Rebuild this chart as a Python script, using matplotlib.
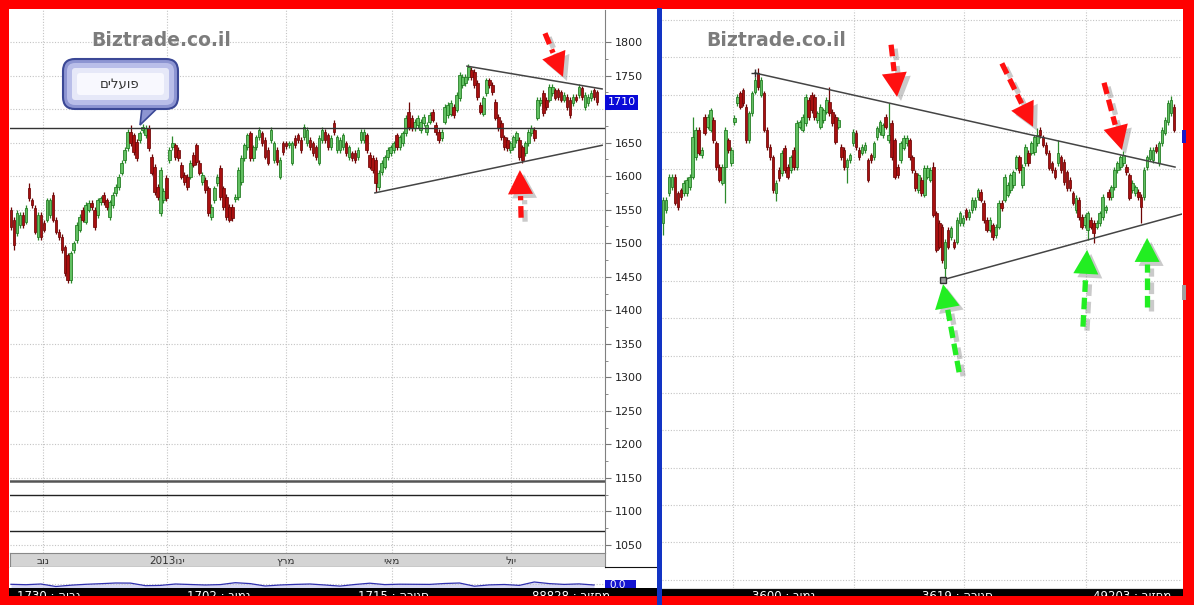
import re
import numpy as np
import matplotlib
matplotlib.use("Agg")
import matplotlib.pyplot as plt
from matplotlib.patches import Rectangle, Polygon, FancyBboxPatch
from matplotlib.lines import Line2D
from matplotlib.transforms import IdentityTransform, blended_transform_factory

plt.rcParams["font.family"] = ["DejaVu Sans"]

W, H = 1194, 605

# ---------------- left chart (daily candles) ----------------
l_open = [1550, 1535, 1515, 1527, 1542, 1532, 1582, 1564, 1553, 1509,
          1542, 1530, 1535, 1542, 1572, 1535, 1517, 1509, 1494, 1482,
          1445, 1490, 1505, 1520, 1550, 1532, 1550, 1560, 1550, 1542,
          1561, 1572, 1564, 1539, 1557, 1575, 1584, 1605, 1624, 1642,
          1666, 1661, 1651, 1654, 1669, 1661, 1672, 1629, 1614, 1584,
          1545, 1564, 1597, 1624, 1643, 1646, 1639, 1617, 1602, 1599,
          1599, 1632, 1646, 1620, 1591, 1594, 1582, 1539, 1564, 1590,
          1612, 1582, 1569, 1554, 1554, 1566, 1569, 1591, 1627, 1643,
          1664, 1627, 1643, 1658, 1664, 1654, 1639, 1654, 1624, 1639,
          1599, 1649, 1649, 1646, 1620, 1657, 1661, 1654, 1658, 1649,
          1654, 1649, 1643, 1620, 1654, 1666, 1661, 1643, 1679, 1639,
          1639, 1643, 1649, 1628, 1634, 1635, 1628, 1654, 1654, 1661,
          1632, 1627, 1624, 1584, 1606, 1614, 1628, 1634, 1639, 1661,
          1643, 1649, 1664, 1696, 1687, 1672, 1676, 1669, 1679, 1666,
          1681, 1696, 1676, 1666, 1657, 1681, 1691, 1693, 1703, 1699,
          1716, 1736, 1739, 1748, 1758, 1755, 1739, 1706, 1693, 1724,
          1743, 1736, 1711, 1688, 1679, 1658, 1654, 1639, 1643, 1654,
          1654, 1643, 1634, 1649, 1664, 1669, 1687, 1709, 1724, 1714,
          1714, 1724, 1728, 1728, 1725, 1714, 1718, 1714, 1709, 1718,
          1721, 1731, 1703, 1709, 1716, 1728, 1725]
l_close = [1524, 1497, 1545, 1542, 1527, 1553, 1567, 1557, 1517, 1542,
           1509, 1520, 1564, 1564, 1535, 1517, 1509, 1490, 1455, 1445,
           1485, 1500, 1527, 1539, 1535, 1557, 1560, 1554, 1524, 1564,
           1567, 1561, 1554, 1561, 1572, 1584, 1599, 1620, 1639, 1666,
           1649, 1636, 1627, 1664, 1673, 1672, 1642, 1605, 1576, 1569,
           1609, 1578, 1567, 1639, 1649, 1628, 1627, 1599, 1591, 1584,
           1620, 1617, 1621, 1605, 1602, 1579, 1545, 1554, 1582, 1599,
           1569, 1554, 1539, 1535, 1537, 1569, 1609, 1627, 1646, 1661,
           1627, 1643, 1658, 1669, 1649, 1629, 1620, 1669, 1649, 1621,
           1624, 1636, 1645, 1649, 1649, 1646, 1654, 1639, 1673, 1669,
           1643, 1634, 1628, 1657, 1669, 1654, 1643, 1657, 1666, 1658,
           1654, 1661, 1634, 1643, 1627, 1624, 1639, 1666, 1666, 1639,
           1614, 1609, 1590, 1605, 1620, 1628, 1639, 1643, 1649, 1643,
           1658, 1664, 1687, 1673, 1672, 1681, 1687, 1681, 1688, 1676,
           1691, 1684, 1666, 1654, 1666, 1703, 1706, 1709, 1691, 1721,
           1751, 1748, 1748, 1763, 1748, 1736, 1718, 1696, 1716, 1743,
           1736, 1725, 1687, 1672, 1658, 1643, 1642, 1649, 1658, 1664,
           1628, 1624, 1649, 1666, 1672, 1657, 1714, 1714, 1694, 1703,
           1733, 1733, 1717, 1718, 1714, 1721, 1703, 1691, 1718, 1714,
           1733, 1718, 1721, 1718, 1724, 1718, 1710]
l_high_idx = [6, 40, 54, 133, 153]
l_high_val = [1590, 1676, 1660, 1710, 1766]
l_low_idx = [1, 19, 50, 122, 171]
l_low_val = [1490, 1440, 1540, 1576, 1621]

l_months = ["נוב", "ינו2013", "מרץ", "מאי", "יול"]
l_month_idx = [10.7, 52.2, 92.0, 127.4, 167.2]
l_level = 1672                       # horizontal resistance
l_low_lines = [1145.5, 1125, 1071]
l_res_x, l_res_y = [152.5, 197.7], [1764, 1730]
l_sup_x, l_sup_y = [121.7, 197.7], [1575, 1646]
l_last = 1710
l_ind = [3.7, 3.3, 4.0, 1.5, 2.8, 3.7, 4.3, 5.0, 4.9, 2.3,
         2.6, 4.0, 3.5, 3.0, 3.4, 5.3, 4.4, 2.0, 3.0, 3.6,
         4.0, 3.0, 1.9, 3.5, 4.8, 3.4, 3.8, 3.7, 3.6, 4.5,
         5.0, 1.8, 3.1, 3.5, 2.6, 6.0, 4.4, 3.6, 4.1, 3.0]
l_stat_names = ["גבוה", "נמוך", "סגירה", "מחזור"]
l_stat_vals = ["1730", "1702", "1715", "88828"]
l_red_tail = [(178.6, 1813), (170.6, 1538)]
l_red_tip = [(184.6, 1748), (170.2, 1609)]

# ---------------- right chart ----------------
r_open = [3478, 3495, 3518, 3526, 3540, 3518, 3522, 3518, 3518, 3526,
          3540, 3566, 3603, 3569, 3620, 3607, 3603, 3616, 3585, 3553,
          3532, 3553, 3589, 3558, 3613, 3639, 3652, 3656, 3634, 3589,
          3625, 3654, 3679, 3650, 3652, 3603, 3580, 3566, 3518, 3549,
          3545, 3579, 3553, 3549, 3576, 3553, 3607, 3603, 3612, 3643,
          3650, 3647, 3616, 3607, 3616, 3627, 3640, 3627, 3620, 3607,
          3580, 3576, 3553, 3562, 3585, 3599, 3576, 3572, 3576, 3562,
          3569, 3566, 3593, 3600, 3596, 3620, 3589, 3612, 3589, 3553,
          3562, 3579, 3585, 3589, 3566, 3545, 3522, 3536, 3516, 3540,
          3536, 3553, 3491, 3478, 3473, 3418, 3469, 3459, 3453, 3453,
          3478, 3478, 3495, 3486, 3495, 3499, 3513, 3520, 3505, 3482,
          3469, 3475, 3462, 3473, 3505, 3509, 3516, 3522, 3529, 3552,
          3566, 3529, 3558, 3572, 3572, 3573, 3585, 3603, 3593, 3583,
          3572, 3558, 3549, 3558, 3566, 3560, 3546, 3536, 3518, 3495,
          3509, 3486, 3475, 3469, 3482, 3478, 3473, 3478, 3486, 3495,
          3520, 3513, 3526, 3549, 3553, 3558, 3553, 3542, 3522, 3518,
          3520, 3513, 3513, 3553, 3564, 3562, 3580, 3558, 3585, 3599,
          3613, 3625, 3634]
r_close = [3509, 3509, 3540, 3540, 3505, 3499, 3513, 3532, 3536, 3540,
           3593, 3603, 3572, 3576, 3599, 3620, 3629, 3589, 3553, 3536,
           3553, 3603, 3576, 3576, 3619, 3647, 3634, 3639, 3589, 3625,
           3652, 3670, 3660, 3670, 3603, 3580, 3566, 3522, 3532, 3538,
           3572, 3549, 3540, 3566, 3553, 3612, 3613, 3620, 3647, 3620,
           3629, 3620, 3625, 3634, 3629, 3643, 3625, 3612, 3587, 3616,
           3566, 3553, 3562, 3569, 3600, 3580, 3566, 3580, 3583, 3536,
           3562, 3585, 3605, 3613, 3609, 3607, 3596, 3566, 3540, 3542,
           3585, 3592, 3592, 3566, 3549, 3525, 3542, 3518, 3552, 3552,
           3549, 3489, 3442, 3446, 3428, 3453, 3446, 3471, 3446, 3482,
           3491, 3485, 3486, 3493, 3509, 3509, 3522, 3509, 3482, 3469,
           3482, 3459, 3473, 3505, 3498, 3540, 3529, 3542, 3546, 3566,
           3549, 3553, 3580, 3558, 3585, 3593, 3596, 3596, 3583, 3572,
           3552, 3549, 3540, 3572, 3549, 3533, 3525, 3525, 3505, 3512,
           3486, 3473, 3486, 3491, 3473, 3465, 3478, 3491, 3513, 3499,
           3513, 3526, 3549, 3558, 3566, 3569, 3546, 3512, 3532, 3526,
           3513, 3499, 3549, 3566, 3576, 3576, 3575, 3585, 3603, 3616,
           3639, 3643, 3603]
r_high_idx = [10, 32, 56, 76, 91, 126, 133, 155, 171]
r_high_val = [3620, 3686, 3660, 3639, 3560, 3606, 3589, 3575, 3648]
r_low_idx = [0, 21, 38, 62, 95, 143, 145, 161]
r_low_val = [3462, 3505, 3507, 3531, 3402, 3455, 3451, 3478]

r_grid_idx = [23.6, 64.3, 101.3, 142.4]
r_res_x, r_res_y = [31.0, 172.4], [3679, 3553]
r_sup_x, r_sup_y = [94.3, 174.7], [3402, 3490]
r_stat_names = ["נמוך", "סגירה", "מחזור"]
r_stat_vals = ["3600", "3619", "49203"]
r_red_tail = [(76.8, 3717), (114.1, 3692), (148.5, 3666)]
r_red_tip = [(78.8, 3647), (124.6, 3607), (154.5, 3576)]
r_green_tail = [(99.7, 3278), (141.4, 3339), (163.0, 3365)]
r_green_tip = [(94.3, 3396), (142.8, 3442), (163.0, 3458)]

RED = "#ff1010"
GREEN = "#22ee22"


def vis(s):
    # matplotlib lays text out left to right: put hebrew in visual (RTL) order
    out = []
    for tok in reversed(s.split(" ")):
        runs = re.findall(r"[\u0590-\u05ff]+|[^\u0590-\u05ff]+", tok)
        out.append("".join(r[::-1] if re.match(r"[\u0590-\u05ff]", r) else r
                           for r in reversed(runs)))
    return " ".join(out)


fig = plt.figure(figsize=(W / 100, H / 100), dpi=100)
fig.patch.set_facecolor("white")
ID = IdentityTransform()


def px_axes(x0, y0, x1, y1):
    return fig.add_axes([x0 / W, 1 - y1 / H, (x1 - x0) / W, (y1 - y0) / H])


def box(x0, y0, x1, y1, color, z=10):
    fig.add_artist(Rectangle((x0, H - y1), x1 - x0, y1 - y0, transform=ID,
                             facecolor=color, edgecolor="none", zorder=z))


def ftext(x, y, s, z=6, **kw):
    t = fig.text(x / W, 1 - y / H, s, **kw)
    t.set_zorder(z)
    return t


def candles(ax, opens, closes, hi_idx, hi_val, lo_idx, lo_val, wick):
    o = np.array(opens, float)
    c = np.array(closes, float)
    assert len(o) == len(c)
    idx = np.arange(len(o))
    hi = np.maximum(o, c) + wick
    lo = np.minimum(o, c) - wick
    hi[hi_idx] = np.maximum(hi[hi_idx], hi_val)
    lo[lo_idx] = np.minimum(lo[lo_idx], lo_val)
    up = c >= o
    dn = ~up
    ax.vlines(idx[up], lo[up], hi[up], color="#2c8a2c", lw=0.9, zorder=3)
    ax.vlines(idx[dn], lo[dn], hi[dn], color="#6e0606", lw=0.9, zorder=3)
    ax.bar(idx[up], np.maximum(c - o, 0.8)[up], bottom=o[up], width=0.88,
           color="#62c062", edgecolor="#1c781c", lw=0.55, zorder=4)
    ax.bar(idx[dn], (o - c)[dn], bottom=c[dn], width=0.88,
           color="#a81010", edgecolor="#6e0606", lw=0.55, zorder=4)


def base_style(ax):
    ax.set_facecolor("white")
    for s in ax.spines.values():
        s.set_visible(False)
    ax.grid(True, which="major", color="#c4c4c4", ls=(0, (1, 1.5)), lw=0.8)
    ax.set_axisbelow(True)


def arrow(ax, tail, tip, color, head_len=24, head_w=25):
    p0 = np.array(ax.transData.transform(tail))
    p1 = np.array(ax.transData.transform(tip))
    u = (p1 - p0) / np.hypot(*(p1 - p0))
    n = np.array([-u[1], u[0]])
    base = p1 - u * head_len
    tri = np.array([p1, base + n * head_w / 2, base - n * head_w / 2])
    for off, col, a, z in [((4, -4), "#8a8a8a", 0.45, 6), ((0, 0), color, 1.0, 7)]:
        off = np.array(off)
        seg = np.array([p0, base - u * 2]) + off
        fig.add_artist(Line2D(seg[:, 0], seg[:, 1], transform=ID, color=col, alpha=a,
                              lw=3.8, dashes=(2.2, 1.1), dash_capstyle="butt", zorder=z))
        fig.add_artist(Polygon(tri + off, closed=True, transform=ID, facecolor=col,
                               edgecolor="none", alpha=a, zorder=z))


# ---------------- left main panel ----------------
lx = lambda px: (px - 11) / 2.99
ly = lambda py: 1800 - (py - 42) * 1.491
axl = px_axes(10, 10, 605, 553)
base_style(axl)
axl.set_xlim(lx(10), lx(605))
axl.set_ylim(ly(553), ly(10))
candles(axl, l_open, l_close, l_high_idx, l_high_val, l_low_idx, l_low_val, 4)
axl.axhline(l_level, color="#333333", lw=1.0, zorder=5)
for v, c, w in zip(l_low_lines, ["#555555", "#222222", "#222222"], [1.8, 1.0, 1.0]):
    axl.axhline(v, color=c, lw=w, zorder=5)
axl.plot(l_res_x, l_res_y, color="#444444", lw=1.1, zorder=5)
axl.plot(l_sup_x, l_sup_y, color="#444444", lw=1.1, zorder=5)
axl.set_xticks(l_month_idx)
axl.tick_params(axis="x", length=0, labelbottom=False)
axl.yaxis.tick_right()
yt = np.arange(1050, 1801, 50)
axl.set_yticks(yt)
axl.set_yticklabels(["" if v == 1700 else str(v) for v in yt])
axl.set_yticks(np.arange(1075, 1800, 50), minor=True)
axl.tick_params(axis="y", which="major", length=4, color="#777777", labelsize=8,
                labelcolor="#222222", pad=3)
axl.tick_params(axis="y", which="minor", length=2, color="#777777")
axl.spines["right"].set_visible(True)
axl.spines["right"].set_color("#808080")
axl.text(1.004, l_last, str(l_last), transform=blended_transform_factory(axl.transAxes, axl.transData),
         ha="left", va="center", fontsize=8, color="white", zorder=8,
         bbox=dict(boxstyle="square,pad=0.22", facecolor="#0a0ad8", edgecolor="none"))

# date strip
axd = px_axes(10, 553, 605, 567)
axd.set_xlim(lx(10), lx(605))
axd.set_ylim(0, 1)
axd.set_facecolor("#d4d4d4")
axd.set_xticks([])
axd.set_yticks([])
for k, s in axd.spines.items():
    s.set_color("#888888" if k != "bottom" else "#111111")
for xi, m in zip(l_month_idx, l_months):
    axd.text(xi, 0.45, vis(m), ha="center", va="center", fontsize=7.5, color="#333333")

# indicator strip
axi = px_axes(10, 567, 605, 588)
axi.set_xlim(lx(10), lx(605))
axi.set_ylim(0, 21)
axi.set_facecolor("white")
for s in axi.spines.values():
    s.set_visible(False)
ind_x = np.arange(len(l_ind)) * 5
axi.fill_between(ind_x, 0, l_ind, color="#d8d8f4", lw=0)
axi.plot(ind_x, l_ind, color="#3030b0", lw=0.9)
axi.set_xticks(l_month_idx)
axi.set_yticks([4])
axi.grid(True, color="#c4c4c4", ls=(0, (1, 1.5)), lw=0.8)
axi.tick_params(length=0, labelbottom=False, labelleft=False)

# ---------------- right main panel ----------------
rx = lambda px: (px - 663) / 2.97
ry = lambda py: 3600 + (132 - py) * 1.3405
axr = px_axes(662, 10, 1182, 588)
base_style(axr)
axr.set_xlim(rx(662), rx(1182))
axr.set_ylim(ry(588), ry(10))
candles(axr, r_open, r_close, r_high_idx, r_high_val, r_low_idx, r_low_val, 3.5)
axr.plot(r_res_x, r_res_y, color="#444444", lw=1.1, zorder=5)
axr.plot(r_sup_x, r_sup_y, color="#444444", lw=1.1, zorder=5)
axr.plot(r_res_x[0], r_res_y[0], marker="+", color="#333333", ms=6, zorder=6)
axr.plot(r_sup_x[0], r_sup_y[0], marker="s", color="#9a9a9a", mec="#333333", ms=5, zorder=6)
axr.set_xticks(r_grid_idx)
axr.set_yticks(np.arange(3000, 3751, 50))
axr.tick_params(length=0, labelbottom=False, labelleft=False)

# ---------------- decorations ----------------
for ax, tails, tips in [(axl, l_red_tail, l_red_tip), (axr, r_red_tail, r_red_tip)]:
    for t0, t1 in zip(tails, tips):
        arrow(ax, t0, t1, RED)
for t0, t1 in zip(r_green_tail, r_green_tip):
    arrow(axr, t0, t1, GREEN)

# watermark
for x in (161, 776):
    ftext(x, 40, "Biztrade.co.il", ha="center", va="center", fontsize=13.5,
          fontweight="bold", color="#7c7c7c")

# callout bubble
for inset, col in [(0, "#8d95d2"), (4, "#b9bee9"), (9, "#e6e8f8"), (14, "#f8f8fe")]:
    fig.add_artist(FancyBboxPatch((63 + inset, H - 109 + inset), 115 - 2 * inset, 50 - 2 * inset,
                                  boxstyle="round,pad=0,rounding_size=%d" % max(12 - inset, 3),
                                  transform=ID, facecolor=col,
                                  edgecolor="#3b4896" if inset == 0 else "none",
                                  lw=1.5, zorder=6))
fig.add_artist(Polygon([(142, H - 107.5), (158, H - 107.5), (140, H - 125)], closed=True,
                       transform=ID, facecolor="#8d95d2", edgecolor="#3b4896", lw=1.2, zorder=5.9))
ftext(120, 84, vis("פועלים"), ha="center", va="center", fontsize=9.5, color="#333333", z=7)

# axis side region lines and value boxes
fig.add_artist(Line2D([605, 657], [H - 567, H - 567], transform=ID, color="#111111", lw=0.8, zorder=6))
box(605, 580, 636, 588, "#1414d0", z=6)
ftext(609, 580.5, "0.0", ha="left", va="top", fontsize=7.5, color="white", z=6.5)

# bottom info strip (text half hidden by the frame, as in the screenshot)
box(8, 588, 1184, 596, "#000000", z=6)
fig.add_artist(Line2D([662, 1182], [H - 588, H - 588], transform=ID, color="#dddddd", lw=0.8, zorder=6.2))
for x, n, v in zip([17, 187, 358, 532], l_stat_names, l_stat_vals):
    ftext(x, 589.5, vis(n + " : " + v), ha="left", va="top", fontsize=8.5, color="white", z=7)
for x, n, v in zip([752, 922, 1093], r_stat_names, r_stat_vals):
    ftext(x, 589.5, vis(n + " : " + v), ha="left", va="top", fontsize=8.5, color="white", z=7)

# red frame
box(0, 0, W, 9, "#ff0000", z=10)
box(0, 0, 9, H, "#ff0000", z=10)
box(1183, 0, W, H, "#ff0000", z=10)
box(0, 596, W, H, "#ff0000", z=10)
# blue divider between the two charts
box(657, 8, 662, H, "#1234c4", z=11)
# price markers on the right edge
box(1182, 130, 1186, 143, "#1818c8", z=11)
box(1182, 285, 1186, 300, "#a0a0a0", z=11)

fig.savefig("out.png", dpi=100)
